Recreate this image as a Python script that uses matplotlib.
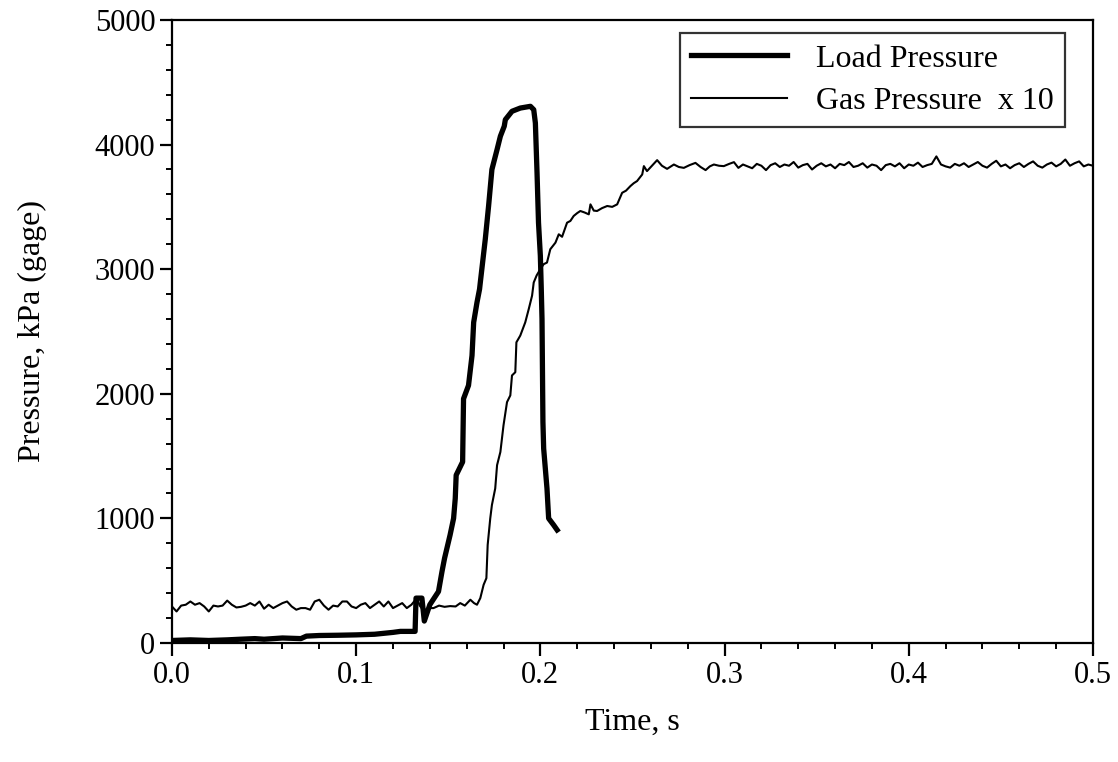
#!/usr/bin/env python3

import numpy as np
import matplotlib
matplotlib.use("Agg")
import matplotlib.pyplot as plt
from matplotlib.ticker import MultipleLocator, FormatStrFormatter

plt.rcParams['font.family'] = ['Liberation Serif', 'DejaVu Serif']

# Load pressure, kPa (gage)
load_t = [0.0, 0.01, 0.02, 0.03, 0.037, 0.045, 0.05, 0.06, 0.07, 0.073, 0.08,
          0.09, 0.1, 0.11, 0.12, 0.124, 0.132, 0.1325, 0.1357, 0.137, 0.140,
          0.1447, 0.1466, 0.148, 0.151, 0.1529, 0.1538, 0.1543, 0.1578, 0.1583,
          0.161, 0.1629, 0.1638, 0.1656, 0.167, 0.1674, 0.1701, 0.1719, 0.1737,
          0.1765, 0.1783, 0.1804, 0.181, 0.1846, 0.1891, 0.1946, 0.1964, 0.1973,
          0.1982, 0.199, 0.2, 0.2005, 0.2009, 0.2012, 0.2014, 0.2018, 0.2036,
          0.2045, 0.2072, 0.2091]
load_p = [20, 25, 20, 25, 30, 35, 30, 40, 35, 55, 60,
          62, 65, 70, 85, 93, 93, 360, 360, 176, 307,
          413, 573, 680, 867, 1000, 1160, 1347, 1453, 1960,
          2067, 2307, 2573, 2733, 2840, 2893, 3240, 3507, 3800,
          3960, 4067, 4147, 4200, 4267, 4293, 4307, 4280, 4173,
          3773, 3373, 3107, 2840, 2600, 2100, 1773, 1560, 1240,
          1000, 947, 907]

# Gas pressure x 10, baseline before ignition (every 0.0025 s from 0 to 0.13)
gas_base_p = [293, 253, 300, 307, 333, 307, 320, 293, 253, 300, 293, 300, 340,
              307, 285, 290, 300, 320, 300, 333, 275, 307, 280, 300, 320, 333,
              293, 267, 280, 280, 267, 333, 347, 300, 267, 300, 293, 333, 333,
              293, 280, 307, 320, 280, 307, 333, 293, 333, 280, 300, 320, 280,
              307]

# Gas pressure x 10, rise
gas_rise_t = [0.133, 0.1345, 0.137, 0.140, 0.142, 0.145, 0.148, 0.151, 0.154,
              0.1565, 0.159, 0.162, 0.164, 0.1656, 0.1674, 0.1692, 0.1707,
              0.1714, 0.1728, 0.1737, 0.1755, 0.1765, 0.1783, 0.18, 0.1819,
              0.1837, 0.1846, 0.1864, 0.187, 0.1891, 0.1918, 0.1937, 0.1955,
              0.1964, 0.198, 0.2, 0.2018, 0.2036, 0.2054, 0.2082, 0.21, 0.2118,
              0.2145, 0.2163, 0.2181, 0.22, 0.2217, 0.224, 0.2263, 0.2272, 0.229,
              0.2308, 0.2335, 0.2363, 0.239, 0.2417, 0.2444, 0.2465, 0.2489,
              0.2507, 0.2525, 0.2553, 0.2562, 0.2579, 0.2606, 0.2634, 0.266,
              0.2688, 0.2725, 0.2752, 0.2779, 0.281, 0.2842, 0.287, 0.2897,
              0.292, 0.2942, 0.297, 0.2996, 0.3025, 0.3051, 0.3075]
gas_rise_p = [360, 300, 253, 280, 280, 300, 290, 296, 293,
              320, 300, 347, 320, 307, 360, 467, 520,
              787, 1000, 1107, 1240, 1427, 1533, 1747, 1933,
              1987, 2147, 2173, 2413, 2467, 2573, 2680, 2787,
              2893, 2950, 3000, 3040, 3053, 3160, 3213, 3280, 3260,
              3373, 3387, 3427, 3450, 3467, 3455, 3440, 3520, 3470,
              3467, 3490, 3507, 3500, 3520, 3613, 3630, 3667,
              3690, 3707, 3760, 3827, 3787, 3830, 3875, 3830,
              3805, 3840, 3820, 3813, 3835, 3853, 3820, 3795,
              3825, 3840, 3830, 3827, 3845, 3859, 3813]

# Gas pressure x 10, plateau (every 0.0025 s from 0.31 to 0.5)
gas_plat_p = [3840, 3825, 3810, 3845, 3830, 3795, 3835, 3850, 3820, 3840,
              3830, 3860, 3815, 3835, 3845, 3800, 3830, 3850, 3825, 3840,
              3810, 3845, 3835, 3860, 3820, 3830, 3850, 3815, 3840, 3830,
              3795, 3835, 3845, 3825, 3850, 3810, 3840, 3830, 3855, 3820,
              3835, 3845, 3905, 3840, 3825, 3815, 3845, 3830, 3850, 3820,
              3840, 3860, 3830, 3815, 3845, 3870, 3825, 3840, 3810, 3835,
              3850, 3820, 3845, 3865, 3830, 3815, 3840, 3855, 3825, 3845,
              3880, 3830, 3850, 3865, 3825, 3840, 3830]

gas_t = np.concatenate([np.linspace(0.0, 0.13, len(gas_base_p)), gas_rise_t,
                        np.linspace(0.31, 0.5, len(gas_plat_p))])
gas_p = np.concatenate([gas_base_p, gas_rise_p, gas_plat_p])

fig = plt.figure(figsize=(11.18, 7.62), dpi=100)
ax = fig.add_axes([0.1538, 0.1562, 0.8238, 0.8176])

ax.plot(load_t, load_p, color="black", lw=3.8, solid_joinstyle="round",
        label="Load Pressure")
ax.plot(gas_t, gas_p, color="black", lw=1.5, label="Gas Pressure  x 10")

ax.set_xlim(0, 0.5)
ax.set_ylim(0, 5000)
ax.xaxis.set_major_locator(MultipleLocator(0.1))
ax.xaxis.set_minor_locator(MultipleLocator(0.02))
ax.xaxis.set_major_formatter(FormatStrFormatter("%.1f"))
ax.yaxis.set_major_locator(MultipleLocator(1000))
ax.yaxis.set_minor_locator(MultipleLocator(200))

for side in ax.spines.values():
    side.set_linewidth(1.6)
ax.tick_params(which="major", direction="out", length=9, width=1.6,
               labelsize=22, pad=4)
ax.tick_params(axis="y", which="major", pad=3)
ax.tick_params(which="minor", direction="out", length=4, width=1.4)

ax.set_xlabel("Time, s", fontsize=23, labelpad=13)
ax.set_ylabel("Pressure, kPa (gage)", fontsize=23, labelpad=34)

leg = ax.legend(loc="upper right", bbox_to_anchor=(0.9696, 0.979),
                fontsize=23, frameon=True, fancybox=False, handlelength=3.0,
                handletextpad=0.9, borderpad=0.35, labelspacing=0.4,
                borderaxespad=0)
leg.get_frame().set_edgecolor("black")
leg.get_frame().set_linewidth(1.6)

fig.savefig("out.png", dpi=100)
